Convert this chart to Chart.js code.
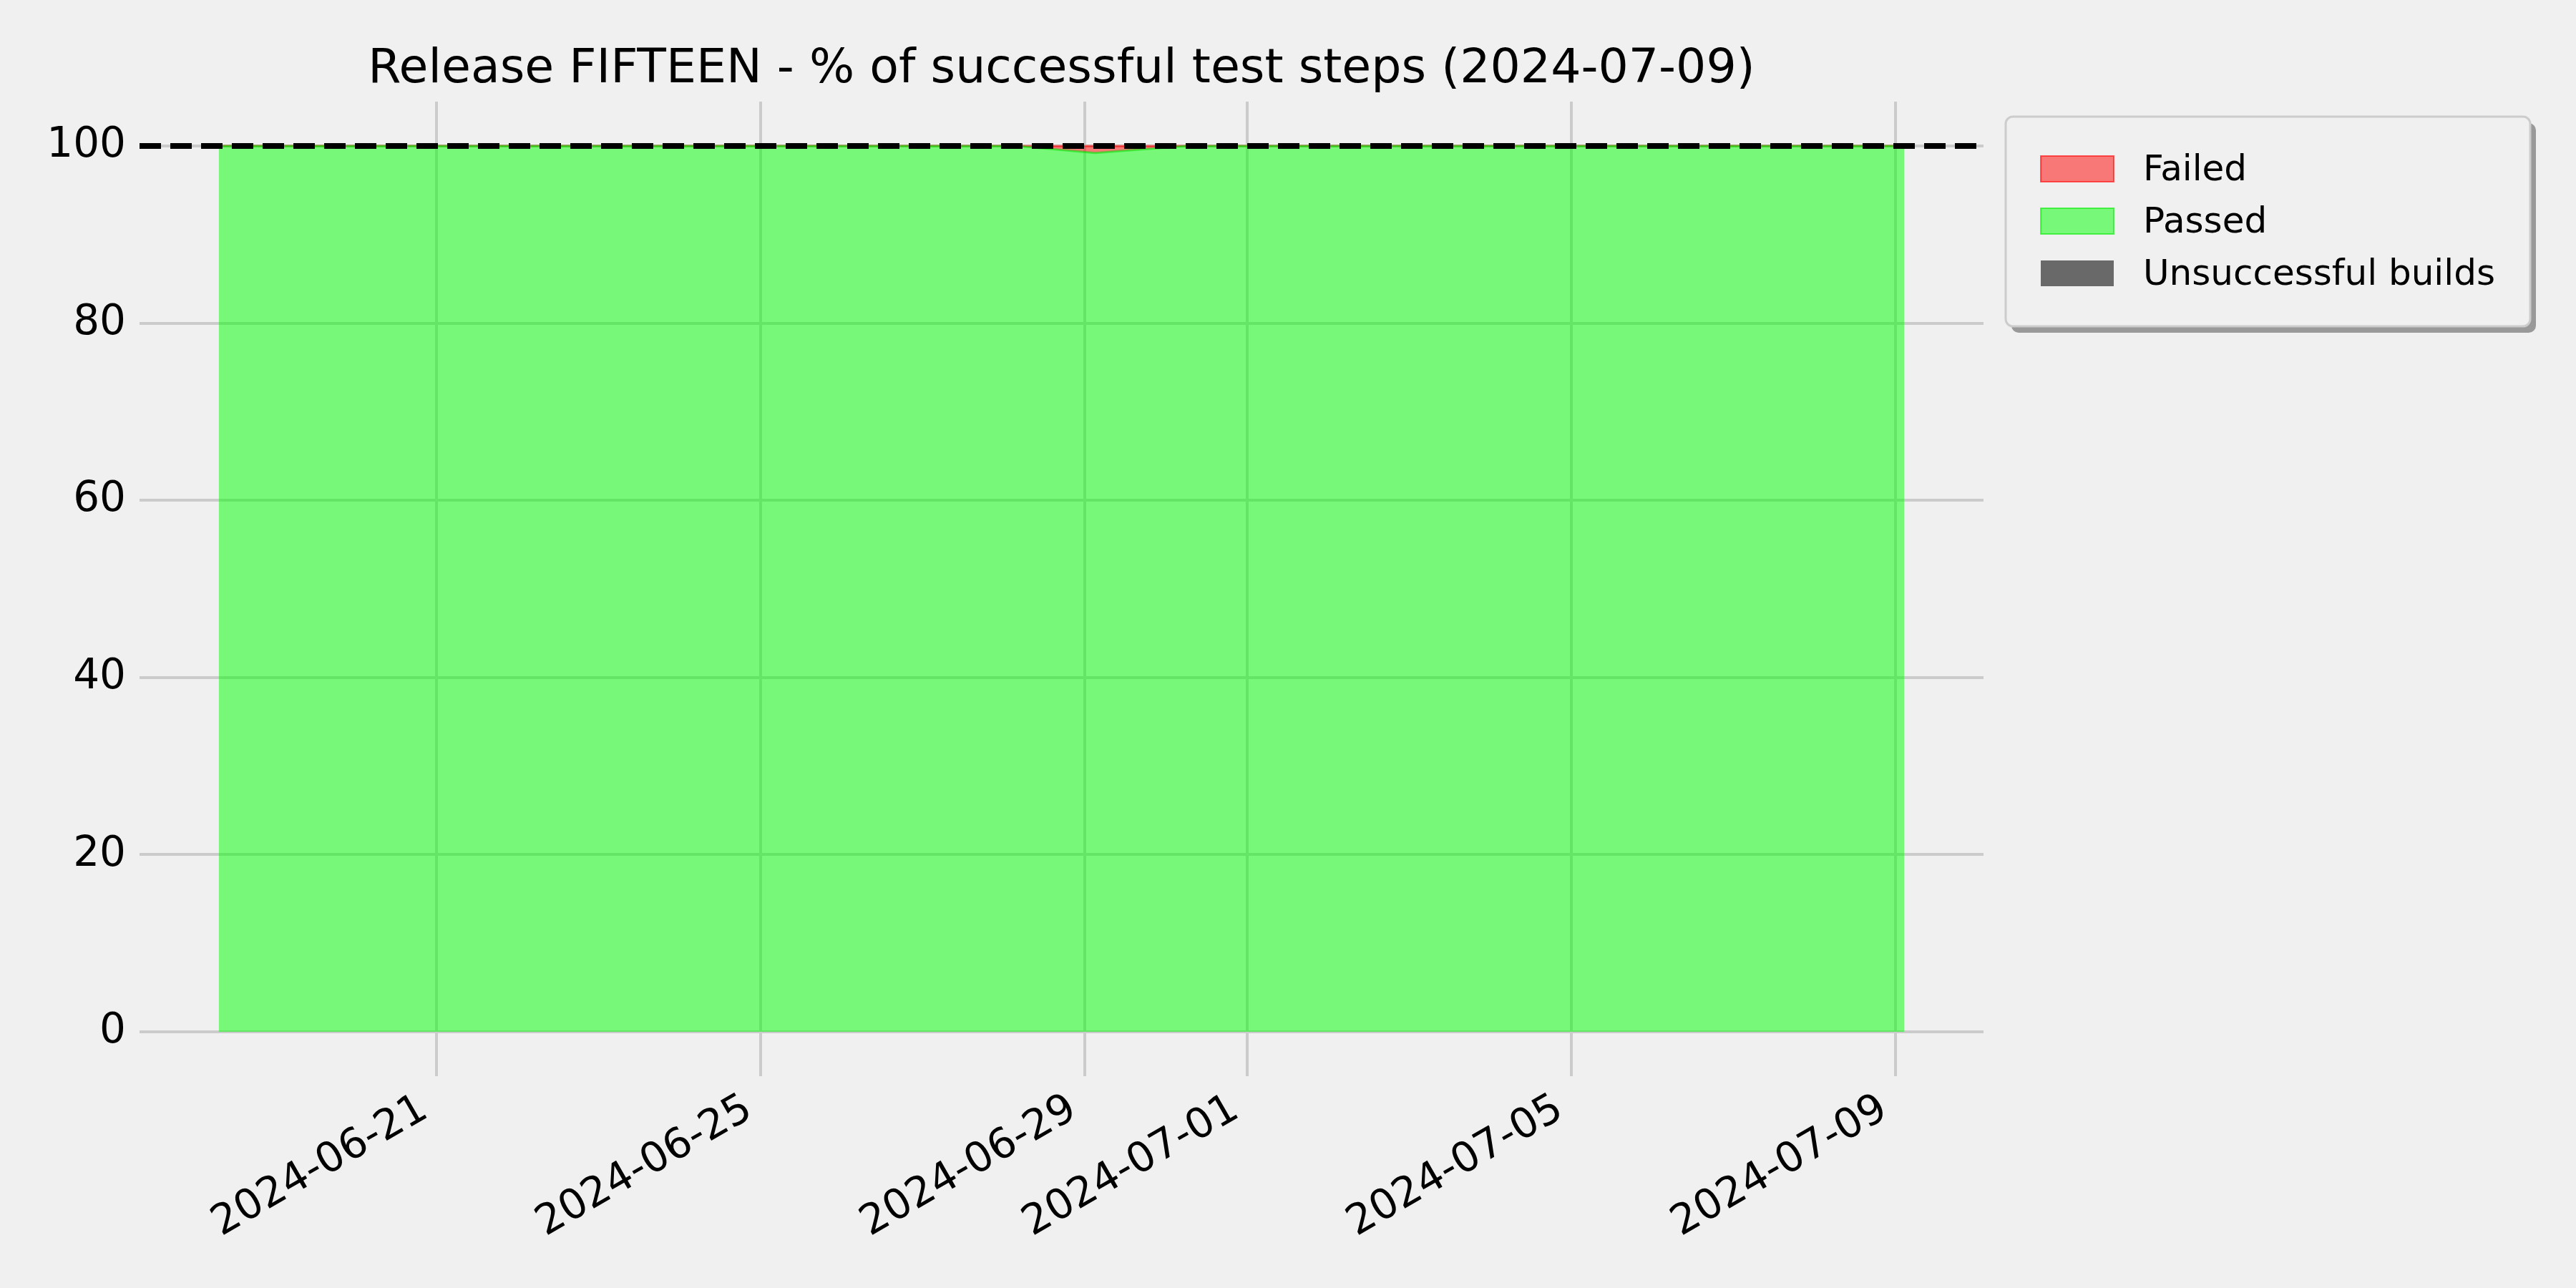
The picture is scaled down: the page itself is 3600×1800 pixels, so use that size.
<!DOCTYPE html>
<html>
<head>
<meta charset="utf-8">
<script src="https://cdn.jsdelivr.net/npm/chart.js@4.4.1/dist/chart.umd.min.js"></script>
<style>
  body { margin: 0; background: #f0f0f0; }
  canvas { display: block; }
</style>
</head>
<body>
<canvas id="chart" width="3600" height="1800"></canvas>
<script>
// build timestamps (UTC) and % of test steps per build
var buildDates = [
    '2024-06-18T07:40', '2024-06-19T07:00', '2024-06-20T07:00', '2024-06-21T07:00',
    '2024-06-22T07:00', '2024-06-23T07:00', '2024-06-24T07:00', '2024-06-25T07:00',
    '2024-06-26T07:00', '2024-06-27T07:00', '2024-06-28T04:00', '2024-06-29T03:00',
    '2024-06-30T06:00', '2024-07-01T03:00', '2024-07-02T03:00', '2024-07-03T03:00',
    '2024-07-04T03:00', '2024-07-05T03:00', '2024-07-06T03:00', '2024-07-07T03:00',
    '2024-07-08T03:00', '2024-07-09T02:30'
];
var passedPct = [100, 100, 100, 100, 100, 100, 100, 100, 100, 100, 100, 99.2,
                 100, 100, 100, 100, 100, 100, 100, 100, 100, 100];
var failedPct = [0, 0, 0, 0, 0, 0, 0, 0, 0, 0, 0, 0.8,
                 0, 0, 0, 0, 0, 0, 0, 0, 0, 0];
var unsuccessfulPct = [0, 0, 0, 0, 0, 0, 0, 0, 0, 0, 0, 0,
                       0, 0, 0, 0, 0, 0, 0, 0, 0, 0];

var yTicks = [0, 20, 40, 60, 80, 100];
var xTickDates = ['2024-06-21', '2024-06-25', '2024-06-29', '2024-07-01', '2024-07-05', '2024-07-09'];
var targetLine = 100;
var chartTitle = 'Release FIFTEEN - % of successful test steps (2024-07-09)';
var legendOrder = ['Failed', 'Passed', 'Unsuccessful builds'];

var FONT = "'DejaVu Sans', sans-serif";

function toTime(s) {
    return Date.parse(s + (s.length == 10 ? 'T00:00:00Z' : ':00Z'));
}

function points(values) {
    var out = [];
    for (var i = 0; i < buildDates.length; i++) {
        out.push({ x: toTime(buildDates[i]), y: values[i] });
    }
    return out;
}

var tFirst = toTime(buildDates[0]);
var tLast = toTime(buildDates[buildDates.length - 1]);
var span = tLast - tFirst;

var bgPlugin = {
    id: 'bg',
    beforeDraw: function(chart) {
        var ctx = chart.ctx;
        ctx.save();
        ctx.fillStyle = '#f0f0f0';
        ctx.fillRect(0, 0, chart.width, chart.height);
        ctx.restore();
    }
};

var extrasPlugin = {
    id: 'extras',
    afterDatasetsDraw: function(chart) {
        var ctx = chart.ctx;
        var area = chart.chartArea;
        var y = chart.scales.y.getPixelForValue(targetLine);
        ctx.save();
        ctx.strokeStyle = '#000000';
        ctx.lineWidth = 8;
        ctx.lineCap = 'butt';
        ctx.setLineDash([30, 13]);
        ctx.beginPath();
        ctx.moveTo(area.left, y);
        ctx.lineTo(area.right, y);
        ctx.stroke();
        ctx.restore();
    },
    afterDraw: function(chart) {
        var ctx = chart.ctx;
        var area = chart.chartArea;

        // title
        ctx.save();
        ctx.fillStyle = '#000000';
        ctx.font = '66.5px ' + FONT;
        ctx.textAlign = 'center';
        ctx.textBaseline = 'alphabetic';
        ctx.fillText(chartTitle, (area.left + area.right) / 2, 115);
        ctx.restore();

        // legend box
        var bx = area.right + 31, by = area.top + 21, bw = 733, bh = 293, r = 10;
        ctx.save();
        ctx.fillStyle = '#999999';
        ctx.beginPath();
        ctx.roundRect(bx + 8, by + 9, bw, bh, r);
        ctx.fill();
        ctx.fillStyle = '#f0f0f0';
        ctx.strokeStyle = '#cccccc';
        ctx.lineWidth = 3;
        ctx.beginPath();
        ctx.roundRect(bx, by, bw, bh, r);
        ctx.fill();
        ctx.stroke();

        ctx.font = '50px ' + FONT;
        ctx.textAlign = 'left';
        ctx.textBaseline = 'middle';
        for (var i = 0; i < legendOrder.length; i++) {
            var ds = chart.data.datasets.find(function(d) { return d.label == legendOrder[i]; });
            var py = by + 55 + i * 73;
            ctx.fillStyle = '#f0f0f0';
            ctx.fillRect(bx + 49, py, 102, 36);
            ctx.fillStyle = ds.legendFill;
            ctx.fillRect(bx + 49, py, 102, 36);
            if (ds.legendEdge) {
                ctx.strokeStyle = ds.legendEdge;
                ctx.lineWidth = 2;
                ctx.strokeRect(bx + 49, py, 102, 36);
            }
            ctx.fillStyle = '#000000';
            ctx.fillText(ds.label, bx + 192, py + 21);
        }
        ctx.restore();
    }
};

new Chart(document.getElementById('chart'), {
    type: 'line',
    data: {
        datasets: [{
            label: 'Passed',
            data: points(passedPct),
            backgroundColor: 'rgba(0, 255, 0, 0.5)',
            borderColor: 'rgba(0, 225, 0, 0.55)',
            borderWidth: 3,
            fill: 'origin',
            legendFill: 'rgba(0, 255, 0, 0.5)',
            legendEdge: 'rgba(0, 235, 0, 0.6)'
        }, {
            label: 'Failed',
            data: points(failedPct),
            backgroundColor: 'rgba(255, 0, 0, 0.5)',
            borderColor: 'rgba(255, 0, 0, 0.5)',
            borderWidth: 3,
            fill: '-1',
            legendFill: 'rgba(255, 0, 0, 0.5)',
            legendEdge: 'rgba(255, 0, 0, 0.6)'
        }, {
            label: 'Unsuccessful builds',
            data: points(unsuccessfulPct),
            backgroundColor: 'rgba(0, 0, 0, 0.56)',
            borderWidth: 0,
            fill: '-1',
            legendFill: 'rgba(0, 0, 0, 0.56)'
        }]
    },
    options: {
        responsive: false,
        animation: false,
        devicePixelRatio: 1,
        layout: { padding: { top: 142, right: 828, left: 0, bottom: 0 } },
        elements: { point: { radius: 0 }, line: { tension: 0 } },
        plugins: { legend: { display: false }, title: { display: false }, tooltip: { enabled: false } },
        scales: {
            x: {
                type: 'linear',
                min: tFirst - 0.047 * span,
                max: tLast + 0.047 * span,
                border: { display: false },
                grid: { color: '#cbcbcb', lineWidth: 4, drawTicks: false },
                afterBuildTicks: function(scale) {
                    scale.ticks = xTickDates.map(function(d) { return { value: toTime(d) }; });
                },
                afterFit: function(scale) { scale.height = 296; },
                ticks: {
                    autoSkip: false,
                    minRotation: 30,
                    maxRotation: 30,
                    padding: 12,
                    labelOffset: -16,
                    color: '#000000',
                    font: { family: FONT, size: 58 },
                    callback: function(value) {
                        return new Date(value).toISOString().slice(0, 10);
                    }
                }
            },
            y: {
                stacked: true,
                min: -5,
                max: 105,
                border: { display: false },
                grid: { color: '#cbcbcb', lineWidth: 4, drawTicks: false },
                afterBuildTicks: function(scale) {
                    scale.ticks = yTicks.map(function(v) { return { value: v }; });
                },
                afterFit: function(scale) { scale.width = 195; },
                ticks: {
                    padding: 19,
                    color: '#000000',
                    font: { family: FONT, size: 58 }
                }
            }
        }
    },
    plugins: [bgPlugin, extrasPlugin]
});
</script>
</body>
</html>
